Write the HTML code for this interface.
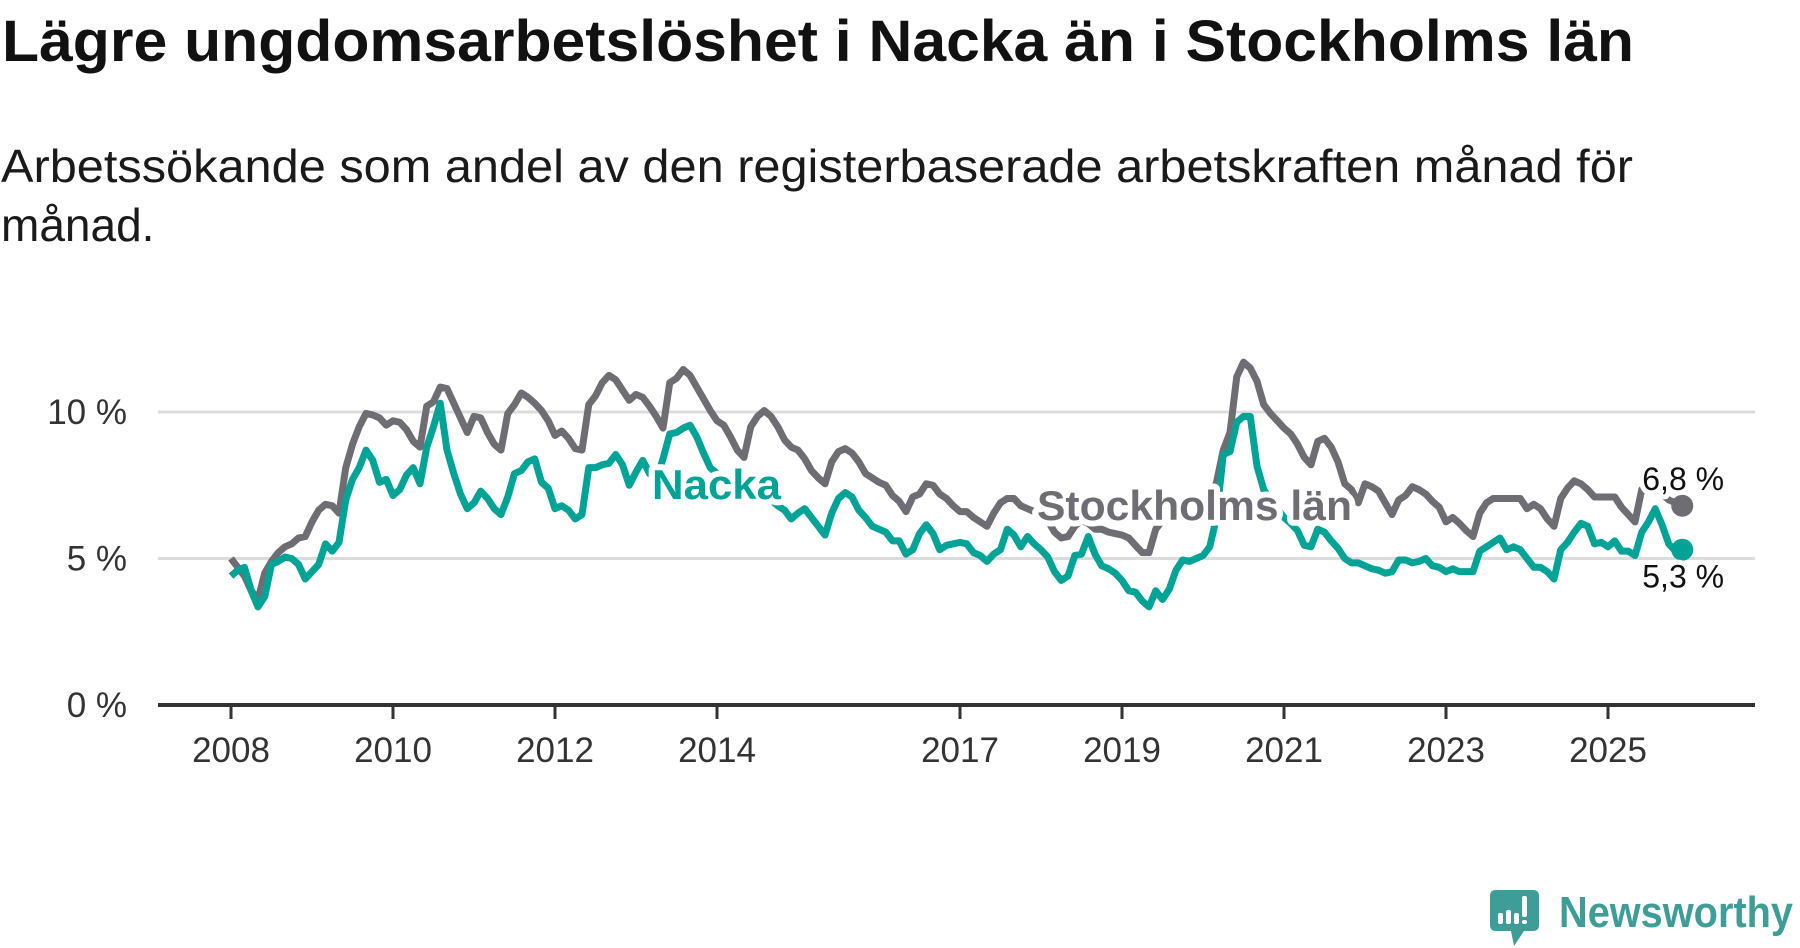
<!DOCTYPE html>
<html><head><meta charset="utf-8"><style>
html,body{margin:0;padding:0;background:#fff;}
svg{display:block;font-family:"Liberation Sans",sans-serif;}
</style></head><body>
<svg id="chart" width="1800" height="948" viewBox="0 0 1800 948" xmlns="http://www.w3.org/2000/svg">
<text x="2" y="61" font-size="58" font-weight="bold" fill="#111" textLength="1632" lengthAdjust="spacingAndGlyphs">Lägre ungdomsarbetslöshet i Nacka än i Stockholms län</text>
<text x="1" y="182" font-size="46" fill="#1a1a1a" textLength="1632" lengthAdjust="spacingAndGlyphs">Arbetssökande som andel av den registerbaserade arbetskraften månad för</text>
<text x="1" y="241" font-size="46" fill="#1a1a1a">månad.</text>
<g id="grid"></g><g id="axes"></g><g id="series"></g><g id="labels"></g>
<g>
<path d="M1496 890 H1533 Q1539 890 1539 896 V925 Q1539 931 1533 931 H1524 L1514 946 L1511 931 H1496 Q1490 931 1490 925 V896 Q1490 890 1496 890 Z" fill="#3e9e97"/>
<rect x="1498" y="913" width="5" height="11" rx="2" fill="#fff"/><rect x="1506" y="910" width="5" height="14" rx="2" fill="#fff"/><rect x="1514" y="913" width="5" height="11" rx="2" fill="#fff"/><rect x="1522" y="896" width="5" height="21" rx="2" fill="#fff"/><rect x="1522" y="920" width="5" height="4" rx="2" fill="#fff"/>
<text x="1559" y="927" font-size="44" font-weight="bold" fill="#3e9e97" textLength="234" lengthAdjust="spacingAndGlyphs">Newsworthy</text>
</g>
</svg>
<script>
const nacka = [4.4,4.6,4.7,3.9,3.35,3.7,4.8,4.9,5.05,5.0,4.8,4.3,4.55,4.8,5.5,5.25,5.55,7.0,7.7,8.1,8.7,8.35,7.6,7.7,7.15,7.35,7.85,8.1,7.55,8.8,9.5,10.3,8.7,7.9,7.2,6.7,6.9,7.3,7.05,6.7,6.5,7.1,7.9,8.0,8.3,8.4,7.6,7.4,6.7,6.8,6.65,6.35,6.5,8.1,8.1,8.2,8.25,8.55,8.2,7.5,7.95,8.35,7.9,7.7,8.4,9.25,9.3,9.45,9.55,9.15,8.6,8.1,7.9,7.7,7.6,7.5,7.4,7.4,7.3,7.2,7.0,6.8,6.65,6.35,6.55,6.7,6.4,6.1,5.8,6.55,7.05,7.25,7.1,6.65,6.4,6.1,6.0,5.9,5.6,5.6,5.15,5.3,5.85,6.15,5.85,5.3,5.45,5.5,5.55,5.5,5.2,5.1,4.9,5.15,5.3,6.0,5.8,5.4,5.75,5.5,5.3,5.05,4.55,4.25,4.4,5.1,5.15,5.75,5.15,4.75,4.65,4.5,4.25,3.9,3.85,3.55,3.35,3.9,3.6,3.95,4.6,4.95,4.9,5.0,5.1,5.4,6.4,8.55,8.65,9.65,9.85,9.85,8.15,7.35,7.0,6.7,6.4,6.2,5.95,5.45,5.4,6.0,5.9,5.6,5.35,5.0,4.85,4.85,4.75,4.65,4.6,4.5,4.55,4.95,4.95,4.85,4.9,5.0,4.75,4.7,4.55,4.65,4.55,4.55,4.55,5.25,5.4,5.55,5.7,5.3,5.4,5.3,5.0,4.7,4.7,4.55,4.3,5.3,5.55,5.9,6.2,6.1,5.5,5.55,5.4,5.6,5.25,5.25,5.1,5.9,6.25,6.7,6.15,5.5,5.25,5.3];
const stockholm = [5.0,4.7,4.4,3.9,3.6,4.5,4.9,5.2,5.4,5.5,5.7,5.75,6.25,6.65,6.85,6.8,6.55,8.1,8.9,9.5,9.95,9.9,9.8,9.55,9.7,9.65,9.4,9.0,8.8,10.2,10.35,10.85,10.8,10.3,9.8,9.3,9.85,9.8,9.3,8.9,8.7,9.95,10.25,10.65,10.5,10.3,10.05,9.7,9.2,9.35,9.1,8.75,8.7,10.25,10.55,11.0,11.25,11.1,10.75,10.4,10.6,10.5,10.2,9.85,9.45,11.0,11.15,11.45,11.25,10.85,10.45,10.05,9.7,9.55,9.15,8.7,8.45,9.5,9.85,10.05,9.85,9.5,9.05,8.8,8.7,8.4,8.0,7.75,7.55,8.3,8.65,8.75,8.6,8.3,7.9,7.75,7.6,7.5,7.15,6.95,6.6,7.1,7.2,7.55,7.5,7.2,7.05,6.8,6.6,6.6,6.4,6.25,6.1,6.55,6.9,7.05,7.05,6.8,6.7,6.6,6.5,6.3,5.9,5.7,5.75,6.1,6.3,6.2,6.0,6.0,5.9,5.85,5.8,5.7,5.45,5.2,5.2,6.0,6.3,6.5,6.5,6.6,6.5,6.5,6.7,7.0,7.6,8.7,9.3,11.2,11.7,11.5,11.05,10.25,9.95,9.7,9.45,9.25,8.9,8.45,8.2,9.0,9.1,8.8,8.3,7.55,7.35,6.9,7.55,7.45,7.3,6.9,6.5,7.0,7.15,7.45,7.35,7.2,6.95,6.75,6.25,6.4,6.2,5.95,5.75,6.55,6.9,7.05,7.05,7.05,7.05,7.05,6.7,6.85,6.7,6.35,6.1,7.05,7.4,7.65,7.55,7.35,7.1,7.1,7.1,7.1,6.75,6.5,6.25,7.35,7.6,7.5,7.2,7.0,6.9,6.8];
const startYear = 2008;
const yTicks = [0,5,10];
const yTickLabels = ["0 %","5 %","10 %"];
const xTickYears = [2008,2010,2012,2014,2017,2019,2021,2023,2025];
const endLabels = ["6,8 %","5,3 %"];

const NS="http://www.w3.org/2000/svg";
function el(tag,attrs,parent,text){const e=document.createElementNS(NS,tag);for(const k in attrs)e.setAttribute(k,attrs[k]);if(text!==undefined)e.textContent=text;parent.appendChild(e);return e;}
const x0=231, pxPerYear=81, yZero=705, pxPerUnit=29.3;
function xScale(monthIndex){return x0+monthIndex*pxPerYear/12;}
function xYear(year){return x0+(year-startYear)*pxPerYear;}
function yScale(v){return yZero-v*pxPerUnit;}

const grid=document.getElementById('grid'), axes=document.getElementById('axes'), series=document.getElementById('series'), labels=document.getElementById('labels');
yTicks.forEach((t,i)=>{
  if(t>0){
    const g=el('line',{x1:158,x2:1755,y1:yScale(t),y2:yScale(t),stroke:'#dcdcdc','stroke-width':3},grid);
    
    
  }
  const tl=el('text',{x:127,y:yScale(t)+12,'font-size':35,'text-anchor':'end',fill:'#333'},axes,yTickLabels[i]);
  
  
});
const ax=el('line',{x1:158,x2:1755,y1:yZero,y2:yZero,stroke:'#333','stroke-width':4},axes);


xTickYears.forEach(yr=>{
  const x=xYear(yr);
  const tk=el('line',{x1:x,x2:x,y1:yZero,y2:yZero+14,stroke:'#333','stroke-width':3},axes);
  
  
  const t=el('text',{x:x,y:762,'font-size':35,'text-anchor':'middle',fill:'#333'},axes,String(yr));
  
  
});
function pathFor(arr){return arr.map((v,i)=>(i?'L':'M')+xScale(i).toFixed(2)+' '+yScale(v).toFixed(2)).join(' ');}
const sl=el('path',{d:pathFor(stockholm),fill:'none',stroke:'#6e6d73','stroke-width':7,'stroke-linejoin':'round'},series);


const nl=el('path',{d:pathFor(nacka),fill:'none',stroke:'#00a396','stroke-width':7,'stroke-linejoin':'round'},series);


const lastS=stockholm.length-1, lastN=nacka.length-1;
const sd=el('circle',{cx:xScale(lastS),cy:yScale(stockholm[lastS]),r:11,fill:'#6e6d73'},series);


const nd=el('circle',{cx:xScale(lastN),cy:yScale(nacka[lastN]),r:11,fill:'#00a396'},series);


const halo={stroke:'#fff','stroke-width':12,'paint-order':'stroke','stroke-linejoin':'round'};
const l1=el('text',Object.assign({x:652,y:499,'font-size':42,'font-weight':'bold',fill:'#00a396',textLength:129,lengthAdjust:'spacingAndGlyphs'},halo),labels,'Nacka');


const l2=el('text',Object.assign({x:1037,y:520,'font-size':42,'font-weight':'bold',fill:'#6e6d73',textLength:315,lengthAdjust:'spacingAndGlyphs'},halo),labels,'Stockholms län');


const halo2={stroke:'#fff','stroke-width':10,'paint-order':'stroke','stroke-linejoin':'round'};
const e1=el('text',Object.assign({x:xScale(lastS)-40,y:yScale(stockholm[lastS])-16,'font-size':32,fill:'#111'},halo2),labels,endLabels[0]);


const e2=el('text',Object.assign({x:xScale(lastN)-40,y:yScale(nacka[lastN])+38,'font-size':32,fill:'#111'},halo2),labels,endLabels[1]);


</script>
</body></html>
